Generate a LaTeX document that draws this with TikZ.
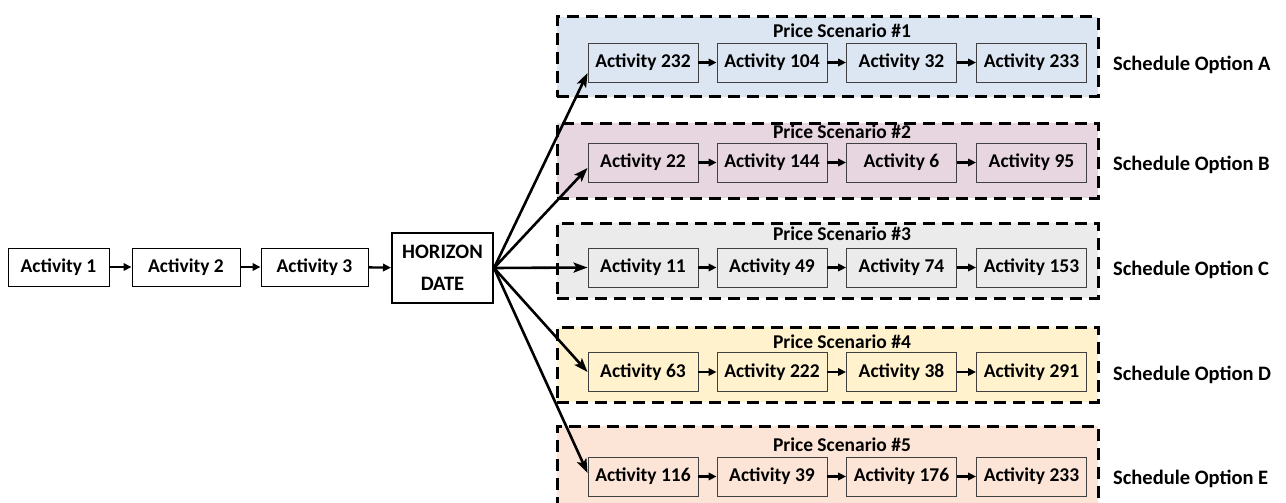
\documentclass[tikz,border=0pt]{standalone}
\usepackage{fontspec}
\setmainfont{Carlito}
\usetikzlibrary{arrows.meta}

\definecolor{scnblue}{HTML}{DCE6F2}
\definecolor{scnpink}{HTML}{E7D6E0}
\definecolor{scngray}{HTML}{EBEBEB}
\definecolor{scnyellow}{HTML}{FFF2CC}
\definecolor{scnpeach}{HTML}{FCE4D6}
\definecolor{boxline}{HTML}{404040}

\begin{document}
\begin{tikzpicture}[x=1pt,y=-1pt,
  every node/.style={font=\fontsize{19.5}{22}\selectfont\bfseries},
  act/.style={draw=black, line width=1pt, minimum height=38pt, inner sep=0pt, fill=white},
  sact/.style={draw=boxline, line width=0.9pt, minimum height=39pt, minimum width=110pt, inner sep=0pt},
  grp/.style={draw=black, line width=3pt, dash pattern=on 12pt off 7pt, inner sep=0pt},
  title/.style={inner sep=0pt},
  option/.style={anchor=west, inner sep=0pt, font=\fontsize{20.5}{24}\selectfont\bfseries},
  link/.style={-{Triangle[length=8pt,width=7.5pt]}, line width=2.4pt},
  fan/.style={-{Stealth[length=14pt,width=10pt,inset=3pt]}, line width=2.6pt}]

\useasboundingbox (0,0) rectangle (1286,503);

% common lead-in chain
\node[act, minimum width=101pt] (a1) at (58.5,267) {Activity 1};
\node[act, minimum width=108pt] (a2) at (186,267) {Activity 2};
\node[act, minimum width=107pt] (a3) at (314.5,267) {Activity 3};
\node[draw=black, line width=2pt, fill=white, minimum width=101pt, minimum height=70pt,
      inner sep=0pt, align=center, font=\fontsize{20.5}{31.5}\selectfont\bfseries]
      (hz) at (442.5,268) {HORIZON\\DATE};
\draw[link] (a1) -- (a2);
\draw[link] (a2) -- (a3);
\draw[link] (a3) -- (hz);

% scenario frames
\node[grp, fill=scnblue,   minimum width=541pt, minimum height=80pt] (g1) at (827.5,57) {};
\node[grp, fill=scnpink,   minimum width=541pt, minimum height=75pt] (g2) at (827.5,160.5) {};
\node[grp, fill=scngray,   minimum width=541pt, minimum height=75pt] (g3) at (827.5,260.5) {};
\node[grp, fill=scnyellow, minimum width=541pt, minimum height=75pt] (g4) at (827.5,364.5) {};
\node[grp, fill=scnpeach,  minimum width=541pt, minimum height=82pt] (g5) at (827.5,467) {};

% scenario titles
\node[title] (t1) at (842,31) {Price Scenario \#1};
\node[title] (t2) at (842,132) {Price Scenario \#2};
\node[title] (t3) at (842,234) {Price Scenario \#3};
\node[title] (t4) at (842,342) {Price Scenario \#4};
\node[title] (t5) at (842,445) {Price Scenario \#5};

% scenario activity chains
\foreach \g/\y/\p/\q/\r/\s in {
    1/62.5/232/104/32/233,
    2/162.5/22/144/6/95,
    3/267.5/11/49/74/153,
    4/372/63/222/38/291,
    5/476.5/116/39/176/233}{
  \node[sact] (b\g1) at (643,\y)    {Activity \p};
  \node[sact] (b\g2) at (772,\y)    {Activity \q};
  \node[sact] (b\g3) at (901.5,\y)  {Activity \r};
  \node[sact] (b\g4) at (1031.5,\y) {Activity \s};
  \draw[link] (b\g1) -- (b\g2);
  \draw[link] (b\g2) -- (b\g3);
  \draw[link] (b\g3) -- (b\g4);
}

% schedule option labels
\node[option] (o1) at (1113,65)  {Schedule Option A};
\node[option] (o2) at (1113,165) {Schedule Option B};
\node[option] (o3) at (1113,270) {Schedule Option C};
\node[option] (o4) at (1113,375) {Schedule Option D};
\node[option] (o5) at (1113,479) {Schedule Option E};

% branches from the horizon date
\draw[fan] (hz.east) -- ([yshift=-10.5pt]b11.west);
\draw[fan] (hz.east) -- ([yshift=-5.5pt]b21.west);
\draw[fan] (hz.east) -- (b31.west);
\draw[fan] (hz.east) -- (b41.west);
\draw[fan] (hz.east) -- ([yshift=3.5pt]b51.west);
\end{tikzpicture}
\end{document}
